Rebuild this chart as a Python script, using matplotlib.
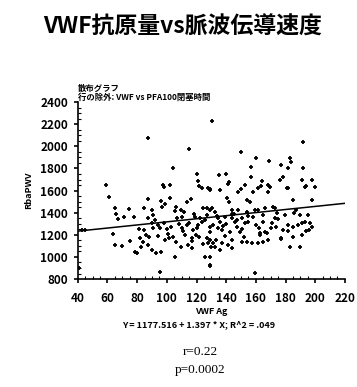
import matplotlib
matplotlib.use("Agg")
import matplotlib.pyplot as plt
from matplotlib.ticker import MultipleLocator

plt.rcParams['font.family'] = ['Noto Sans CJK JP', 'DejaVu Sans']

# --- DADOS ---
TITULO = "VWF抗原量vs脈波伝導速度"
SUBTITULO_1 = "散布グラフ"
SUBTITULO_2 = "行の除外: VWF vs PFA100閉塞時間"
EQUACAO = "Y = 1177.516 + 1.397 * X; R^2 = .049"
INTERCEPTO = 1177.516
INCLINACAO = 1.397
TEXTO_R = "r=0.22"
TEXTO_P = "p=0.0002"

vwf_ag = [
    130.6, 87.0, 114.8, 103.9, 120.5, 59.3, 97.5, 102.0, 121.0, 121.5, 123.4, 129.0,
    191.5, 149.9, 160.0, 169.0, 176.9, 183.0, 184.0, 181.4, 191.5, 156.6, 156.6,
    135.0, 139.6, 141.8, 141.0, 153.0, 164.3, 163.4, 168.3, 176.2, 178.4, 191.0,
    198.0, 193.5, 181.4, 128.0, 150.0,
    61.1, 65.0, 65.4, 66.8, 71.2, 74.6, 77.8, 84.7, 87.0, 87.4, 90.1, 90.8, 96.0,
    96.9, 98.2, 102.0, 98.7, 105.4, 106.5, 109.5, 111.7, 116.2, 113.3, 124.5,
    130.2, 119.0,
    63.8, 65.0, 69.5, 75.5, 78.5, 79.6, 81.8, 83.6, 82.7, 81.3, 84.7, 85.9, 87.4,
    89.7, 90.8, 90.1, 93.0, 94.1, 95.7, 96.4, 95.3, 100.9, 101.3, 105.4, 106.5,
    109.5, 109.9, 113.3, 114.4, 116.7, 116.7, 119.4, 117.7, 121.1, 122.3, 124.5,
    127.5, 125.6, 129.0, 129.7, 129.0,
    129.0, 132.4, 134.7, 135.8, 140.3, 141.8, 143.6, 148.1, 148.1, 153.7, 156.0,
    158.2, 161.6, 161.2, 166.1, 168.3, 169.5, 171.7, 172.8, 180.7, 185.2, 193.1,
    197.6, 199.8,
    129.0, 134.6, 139.0, 143.6, 147.0, 150.4, 152.6, 154.8, 159.4, 164.9, 166.1,
    167.2, 172.8, 173.9, 179.6, 176.9, 181.8, 185.2, 188.6, 190.8, 193.1, 196.4,
    197.6, 185.2, 190.8, 189.7, 195.3, 183.0, 189.7, 153.7, 157.1, 161.6, 164.9,
    168.3, 162.7, 149.2, 150.4, 142.5, 143.6, 126.8, 129.0, 131.2, 132.4, 135.8,
    136.9, 141.3, 143.6, 129.0, 129.0, 159.4, 129.0, 135.8, 126.8,
    44.7, 43.0, 40.5, 110.0, 118.0, 126.0, 138.0, 145.0, 170.0, 175.0, 186.0,
    100.0, 92.0, 88.0, 108.0, 112.0, 160.0, 178.0, 194.0, 187.0, 146.0, 155.0,
    98.0, 103.0, 107.0, 111.0, 115.0, 120.0, 124.0, 127.0, 131.0, 134.0, 137.0,
    140.0, 144.0, 147.0, 151.0, 154.0, 158.0, 162.0, 165.0, 171.0, 174.0, 182.0,
    94.0, 99.0, 104.0, 117.0, 122.0, 133.0, 139.0, 152.0, 163.0, 177.0, 196.0,
]
rba_pwv = [
    2231, 2078, 1973, 1806, 1749, 1650, 1650, 1650, 1689, 1643, 1623, 1611,
    2041, 1951, 1891, 1867, 1831, 1897, 1861, 1806, 1800, 1810, 1725,
    1740, 1747, 1674, 1660, 1650, 1686, 1641, 1650, 1695, 1725, 1695,
    1695, 1643, 1620, 1620, 1610,
    1539, 1445, 1385, 1342, 1363, 1433, 1363, 1445, 1523, 1349, 1424, 1379, 1505,
    1454, 1635, 1530, 1476, 1415, 1454, 1424, 1408, 1523, 1493, 1445,
    1439, 1363,
    1204, 1107, 1101, 1144, 1047, 1032, 1168, 1138, 1093, 1250, 1243, 1198, 1107,
    1304, 1264, 1062, 1032, 1288, 1264, 1047, 860, 1204, 1168, 1002, 1132,
    1093, 1259, 1288, 1107, 1077, 1168, 1198, 1243, 1288, 1349, 1114,
    1123, 1002, 922, 1093, 1228,
    1424, 1408, 1349, 1318, 1530, 1499, 1424, 1424, 1589, 1514, 1499,
    1589, 1620, 1424, 1439, 1589, 1635, 1454, 1445, 1620, 1514, 1635,
    1514, 1635,
    1273, 1259, 1363, 1349, 1273, 1349, 1304, 1318, 1424, 1318, 1228,
    1213, 1349, 1273, 1379, 1168, 1288, 1273, 1288, 1304, 1318, 1304,
    1273, 1183, 1198, 1379, 1379, 1093, 1093, 1138, 1123, 1123, 1138,
    1153, 1213, 1228, 1138, 1228, 1153, 1168, 1153, 1123, 1093, 1062,
    1123, 1107, 1077, 1002, 926, 851, 1605, 1605, 1439,
    1243, 1245, 900, 1360, 1390, 1330, 1280, 1390, 1260, 1340, 1400,
    1250, 1330, 1180, 1300, 1200, 1290, 1240, 1230, 1420, 1320, 1370,
    1310, 1270, 1350, 1230, 1310, 1260, 1320, 1380, 1290, 1370, 1240,
    1300, 1390, 1330, 1250, 1410, 1360, 1260, 1380, 1310, 1400, 1230,
    1190, 1150, 1180, 1140, 1180, 1150, 1190, 1180, 1200, 1160, 1240,
]

# --- FIGURA ---
fig = plt.figure(figsize=(3.57, 3.87), dpi=100)
ax = fig.add_axes([0.218, 0.279, 0.748, 0.457])

ax.scatter(vwf_ag, rba_pwv, marker='+', s=10, linewidths=1.3, color='black', zorder=3)

x_linha = [40, 220]
y_linha = [INTERCEPTO + INCLINACAO * v for v in x_linha]
ax.plot(x_linha, y_linha, color='black', linewidth=1.1)

ax.set_xlim(40, 220)
ax.set_ylim(800, 2400)
ax.xaxis.set_major_locator(MultipleLocator(20))
ax.yaxis.set_major_locator(MultipleLocator(200))
ax.xaxis.set_minor_locator(MultipleLocator(5))
ax.yaxis.set_minor_locator(MultipleLocator(50))
ax.spines['top'].set_visible(False)
ax.spines['right'].set_visible(False)
ax.spines['left'].set_linewidth(1.2)
ax.spines['bottom'].set_linewidth(1.2)
ax.tick_params(which='major', direction='out', length=3, width=1.2, labelsize=8.5)
ax.tick_params(axis='x', which='major', pad=6)
ax.tick_params(axis='y', which='major', pad=4)
ax.tick_params(which='minor', direction='in', length=2, width=0.8)
for lbl in ax.get_xticklabels() + ax.get_yticklabels():
    lbl.set_fontweight('bold')

ax.set_xlabel("VWF Ag", fontsize=6.5, fontweight='bold', labelpad=2)
ax.set_ylabel("RbaPWV", fontsize=6.5, fontweight='bold', labelpad=5)

fig.text(0.51, 0.93, TITULO, ha='center', va='center', fontsize=16.5, fontweight='bold')
fig.text(0.218, 0.772, SUBTITULO_1, ha='left', va='center', fontsize=6, fontweight='bold')
fig.text(0.218, 0.748, SUBTITULO_2, ha='left', va='center', fontsize=6, fontweight='bold')
fig.text(0.555, 0.160, EQUACAO, ha='center', va='center', fontsize=6.5, fontweight='bold')
fig.text(0.56, 0.090, TEXTO_R, ha='center', va='center', fontsize=9.5,
         family=['Liberation Serif'])
fig.text(0.56, 0.043, TEXTO_P, ha='center', va='center', fontsize=9.5,
         family=['Liberation Serif'])

plt.savefig("out.png", dpi=100)
plt.close(fig)
